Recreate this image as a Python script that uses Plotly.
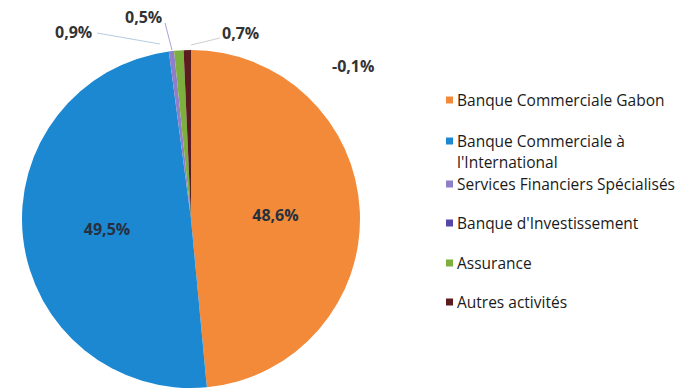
import plotly.graph_objects as go

# Segment contribution shares (%)
segments = [
    "Banque Commerciale Gabon",
    "Banque Commerciale à l'International",
    "Services Financiers Spécialisés",
    "Banque d'Investissement",
    "Assurance",
    "Autres activités",
]
legend_lines = [
    ["Banque Commerciale Gabon"],
    ["Banque Commerciale à", "l'International"],
    ["Services Financiers Spécialisés"],
    ["Banque d'Investissement"],
    ["Assurance"],
    ["Autres activités"],
]
shares = [48.6, 49.5, 0.5, -0.1, 0.9, 0.7]
colors = ["#F28A3A", "#1C88D2", "#8F7FC8", "#5447A6", "#7DAF3E", "#5C1C1E"]

W, H = 691, 392


def px(x):
    return x / W


def py(y):
    return 1 - y / H


def fmt(v):
    return f"{v:.1f}".replace(".", ",") + "%"


# Negative shares cannot be drawn as a slice; they are only labelled
pie_vals = [max(v, 0) for v in shares]
text = [fmt(v) for v in shares]
textpos = ["inside" if v >= 10 else "none" for v in shares]

fig = go.Figure(
    go.Pie(
        labels=segments,
        values=pie_vals,
        text=text,
        texttemplate="%{text}",
        textposition=textpos,
        insidetextorientation="horizontal",
        sort=False,
        direction="clockwise",
        rotation=0,
        marker=dict(colors=colors, line=dict(width=0)),
        textfont=dict(family="Open Sans, DejaVu Sans", size=16, color="#26303E", weight="bold"),
        domain=dict(x=[px(22), px(360)], y=[2 / H, 344 / H]),
        showlegend=False,
        hoverinfo="label+text",
    )
)

label_font = dict(family="Open Sans, DejaVu Sans", size=16, color="#333333", weight="bold")

# Outside labels for the thin slices: (index, x, y)
outside = [(4, 73, 32), (2, 143, 17), (5, 240, 33), (3, 353, 66)]
annotations = []
for i, x, y in outside:
    annotations.append(dict(
        x=px(x), y=py(y), xref="paper", yref="paper", text=text[i],
        showarrow=False, font=label_font, xanchor="center", yanchor="middle",
    ))

shapes = [
    dict(type="line", xref="paper", yref="paper",
         x0=px(97), y0=py(33), x1=px(160), y1=py(44),
         line=dict(color="#B6CCDD", width=1)),
    dict(type="line", xref="paper", yref="paper",
         x0=px(165), y0=py(23), x1=px(172), y1=py(50),
         line=dict(color="#A8A4D8", width=1)),
    dict(type="line", xref="paper", yref="paper",
         x0=px(220), y0=py(38), x1=px(191), y1=py(45),
         line=dict(color="#CFCFCF", width=1)),
]

# Legend drawn beside the pie
legend_font = dict(family="Open Sans, DejaVu Sans", size=15.5, color="#1A1A1A")
legend_y = [100, 141, 184, 223, 263, 302]
line_step = 21
for lines, col, y in zip(legend_lines, colors, legend_y):
    shapes.append(dict(type="rect", xref="paper", yref="paper",
                       x0=px(446), x1=px(453), y0=py(y - 3.5), y1=py(y + 3.5),
                       fillcolor=col, line=dict(width=0)))
    for k, line in enumerate(lines):
        annotations.append(dict(
            x=px(455), y=py(y + k * line_step), xref="paper", yref="paper",
            text=line, showarrow=False, font=legend_font,
            xanchor="left", yanchor="middle",
        ))

fig.update_layout(
    width=W, height=H,
    margin=dict(l=0, r=0, t=0, b=0),
    paper_bgcolor="white",
    plot_bgcolor="white",
    annotations=annotations,
    shapes=shapes,
)

fig.write_html("out.html")
